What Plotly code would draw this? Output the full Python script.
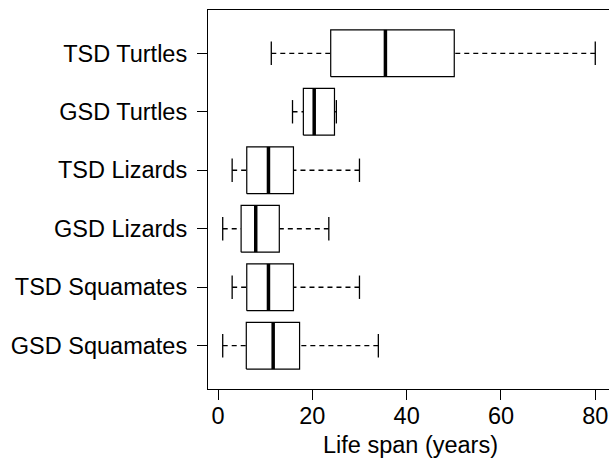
import plotly.graph_objects as go

# Data (bottom to top)
categories = ["GSD Squamates", "TSD Squamates", "GSD Lizards", "TSD Lizards", "GSD Turtles", "TSD Turtles"]
lower = [1.0, 3.0, 1.0, 3.0, 15.8, 11.3]
q1 = [6.0, 6.1, 4.9, 6.1, 18.1, 23.9]
median = [11.7, 10.7, 8.0, 10.7, 20.4, 35.5]
q3 = [17.3, 16.0, 13.0, 16.0, 24.7, 50.1]
upper = [34.0, 30.0, 23.5, 30.0, 25.1, 80.0]
x_ticks = [0, 20, 40, 60, 80]

pos = list(range(1, len(categories) + 1))
half_box = 0.4
half_cap = 0.2

box_x, box_y = [], []
med_x, med_y = [], []
wh_x, wh_y = [], []
cap_x, cap_y = [], []
for p, lo, a, m, b, hi in zip(pos, lower, q1, median, q3, upper):
    box_x += [a, b, b, a, a, None]
    box_y += [p - half_box, p - half_box, p + half_box, p + half_box, p - half_box, None]
    med_x += [m, m, None]
    med_y += [p - half_box, p + half_box, None]
    wh_x += [lo, a, None, hi, b, None]
    wh_y += [p, p, None, p, p, None]
    cap_x += [lo, lo, None, hi, hi, None]
    cap_y += [p - half_cap, p + half_cap, None, p - half_cap, p + half_cap, None]

fig = go.Figure()
fig.add_trace(go.Scatter(x=wh_x, y=wh_y, mode="lines",
                         line=dict(color="black", width=1.3, dash="5px,4px"),
                         hoverinfo="skip", showlegend=False))
fig.add_trace(go.Scatter(x=cap_x, y=cap_y, mode="lines",
                         line=dict(color="black", width=1.3),
                         hoverinfo="skip", showlegend=False))
fig.add_trace(go.Scatter(x=box_x, y=box_y, mode="lines", fill="toself",
                         fillcolor="white",
                         line=dict(color="black", width=1.2),
                         hoverinfo="skip", showlegend=False))
fig.add_trace(go.Scatter(x=med_x, y=med_y, mode="lines",
                         line=dict(color="black", width=3.5),
                         hoverinfo="skip", showlegend=False))

font = dict(family="Liberation Sans, Arial, sans-serif", size=23.5, color="black")

fig.update_layout(
    width=613, height=464,
    margin=dict(l=208, r=0, t=10, b=75),
    paper_bgcolor="white", plot_bgcolor="white",
    font=font,
    xaxis=dict(range=[-2.12, 83.76], tickvals=x_ticks, ticktext=[str(v) for v in x_ticks],
               ticks="outside", ticklen=10, tickcolor="black", tickwidth=1,
               showline=True, mirror=True, linecolor="black", linewidth=1.2,
               showgrid=False, zeroline=False, automargin=False,
               ticklabelstandoff=-4,
               title=dict(text="Life span (years)", standoff=8, font=font),
               tickfont=font),
    yaxis=dict(range=[0.26, 6.74], tickvals=pos, ticktext=categories,
               ticks="outside", ticklen=10, tickcolor="black", tickwidth=1,
               showline=True, mirror=False, linecolor="black", linewidth=1.2,
               showgrid=False, zeroline=False, ticklabelstandoff=5, automargin=False,
               tickfont=font),
)

fig.write_html("out.html", config={"displayModeBar": False},
               post_script=("document.documentElement.style.overflow='hidden';"
                            "document.body.style.margin='0px';"
                            "document.body.style.overflow='hidden';"))
